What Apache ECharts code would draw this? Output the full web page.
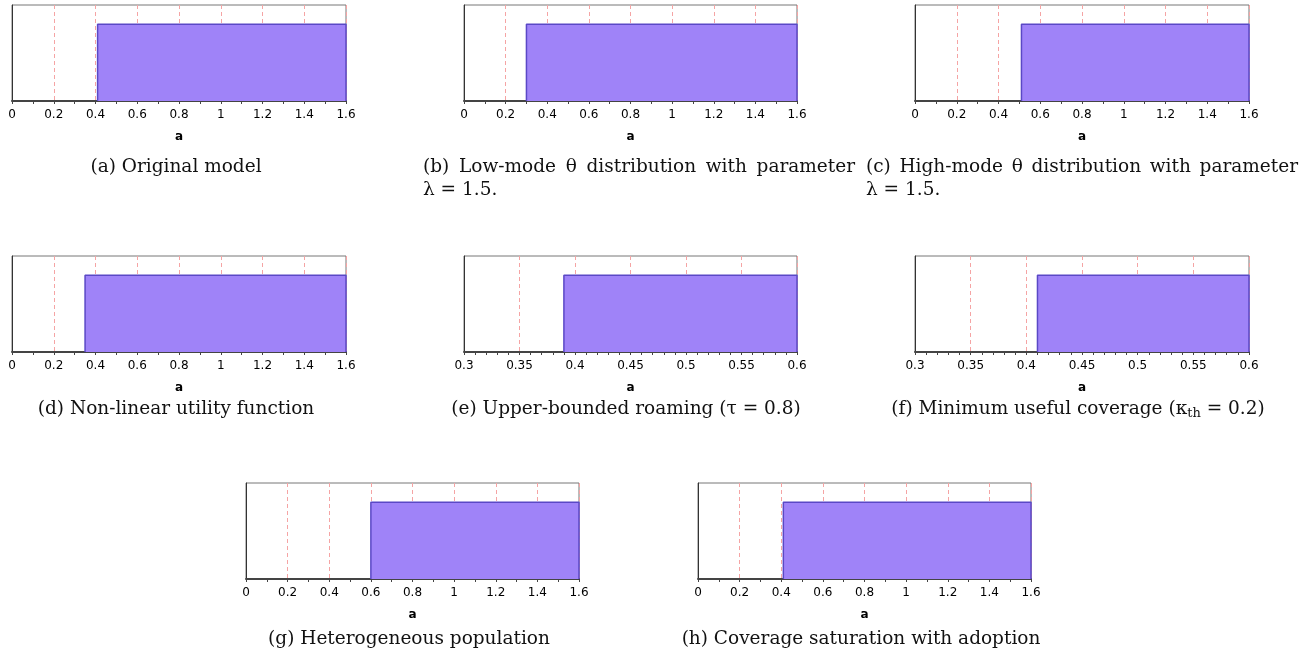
<!DOCTYPE html>
<html>
<head>
<meta charset="utf-8">
<script src="https://cdn.jsdelivr.net/npm/echarts@6/dist/echarts.min.js"></script>
<style>
  html, body { margin: 0; padding: 0; background: #fff; }
  #chart { width: 1310px; height: 663px; }
</style>
</head>
<body>
<div id="chart"></div>
<script>
// Threshold of a above which the region is shaded, one per sub-figure
const thresholds = [0.41, 0.30, 0.51, 0.35, 0.39, 0.41, 0.60, 0.41];
// Axis ranges and tick spacing per sub-figure
const axisMins = [0, 0, 0, 0, 0.3, 0.3, 0, 0];
const axisMaxes = [1.6, 1.6, 1.6, 1.6, 0.6, 0.6, 1.6, 1.6];
const tickSteps = [0.2, 0.2, 0.2, 0.2, 0.05, 0.05, 0.2, 0.2];
const minorSplits = [2, 2, 2, 2, 5, 5, 2, 2];
// Height of the shaded band and top of the vertical range
const bandHeight = 1;
const yTop = 1.25;
const axisTitle = 'a';
// Caption text: first line, optional second line
const captionLines = [
  ['(a) Original model'],
  ['(b) Low-mode θ distribution with parameter', 'λ = 1.5.'],
  ['(c) High-mode θ distribution with parameter', 'λ = 1.5.'],
  ['(d) Non-linear utility function'],
  ['(e) Upper-bounded roaming (τ = 0.8)'],
  ['(f) Minimum useful coverage (κ{sub|th} = 0.2)'],
  ['(g) Heterogeneous population'],
  ['(h) Coverage saturation with adoption']
];

// Panel placement (pixels)
const panelBoxes = [
  { left: 12,  top: 5,   width: 334 },
  { left: 464, top: 5,   width: 333 },
  { left: 915, top: 5,   width: 334 },
  { left: 12,  top: 256, width: 334 },
  { left: 464, top: 256, width: 333 },
  { left: 915, top: 256, width: 334 },
  { left: 246, top: 483, width: 333 },
  { left: 698, top: 483, width: 333 }
];
const panelHeight = 96;
const captionLineHeight = 23;
// Caption anchors (x, centre of first line); wrapped captions are justified over a column
const captionPos = [
  { x: 176,  y: 167, align: 'center' },
  { x: 423,  y: 167, align: 'left', justify: 432 },
  { x: 866,  y: 167, align: 'left', justify: 432 },
  { x: 176,  y: 409, align: 'center' },
  { x: 626,  y: 409, align: 'center' },
  { x: 1078, y: 409, align: 'center' },
  { x: 409,  y: 639, align: 'center' },
  { x: 861,  y: 639, align: 'center' }
];

const serif = '"DejaVu Serif", "Liberation Serif", serif';
const captionSize = 18.5;
const measureCtx = document.createElement('canvas').getContext('2d');
measureCtx.font = captionSize + 'px "DejaVu Serif"';

// Build a justified first line: words separated by stretched gaps
function justifiedLine(line, width, gapKey, rich) {
  const words = line.split(' ');
  const used = words.reduce((s, w) => s + measureCtx.measureText(w).width, 0);
  const natural = measureCtx.measureText(' ').width;
  const gap = Math.max(natural, (width - used) / (words.length - 1));
  rich[gapKey] = { width: gap, fontFamily: serif, fontSize: captionSize };
  return words.join('{' + gapKey + '| }');
}

const chart = echarts.init(document.getElementById('chart'), null, { renderer: 'canvas' });
const grid = [], xAxis = [], yAxis = [], series = [], title = [];

panelBoxes.forEach((b, i) => {
  grid.push({
    left: b.left, top: b.top, width: b.width, height: panelHeight,
    show: true, borderColor: '#777', borderWidth: 1, backgroundColor: '#fff'
  });
  xAxis.push({
    type: 'value', gridIndex: i,
    min: axisMins[i], max: axisMaxes[i], interval: tickSteps[i],
    name: axisTitle, nameLocation: 'middle', nameGap: 30,
    nameTextStyle: { fontFamily: 'DejaVu Sans', fontSize: 12, fontWeight: 'bold', color: '#000' },
    axisLine: { show: true, lineStyle: { color: '#444', width: 2 } },
    axisTick: { show: true, length: 3, lineStyle: { color: '#444' } },
    minorTick: { show: true, splitNumber: minorSplits[i], length: 3, lineStyle: { color: '#444' } },
    axisLabel: {
      fontFamily: 'DejaVu Sans', fontSize: 12, color: '#000', margin: 8,
      showMinLabel: true, showMaxLabel: true
    },
    splitLine: { show: true, lineStyle: { type: [4, 3], color: '#f5a4a4', width: 1 } }
  });
  yAxis.push({
    type: 'value', gridIndex: i, min: 0, max: yTop,
    axisLine: { show: true, lineStyle: { color: '#333', width: 1 } },
    axisTick: { show: false }, axisLabel: { show: false },
    splitLine: { show: false }
  });
  const t = thresholds[i], hi = axisMaxes[i];
  series.push({
    type: 'line', xAxisIndex: i, yAxisIndex: i,
    data: [[t, 0], [t, bandHeight], [hi, bandHeight], [hi, 0]],
    symbol: 'none', silent: true, animation: false,
    lineStyle: { color: '#5a48c6', width: 1.5 },
    areaStyle: { color: '#9f83f8', opacity: 1 },
    z: 3
  });

  const c = captionPos[i];
  const rich = {
    sub: { fontFamily: serif, fontSize: 13, verticalAlign: 'bottom', padding: [8, 0, 0, 0] }
  };
  const lines = captionLines[i].slice();
  if (c.justify) lines[0] = justifiedLine(lines[0], c.justify, 'g' + i, rich);
  title.push({
    text: lines.join('\n'),
    left: c.x,
    top: c.y - captionLineHeight / 2,
    textAlign: c.align,
    textStyle: {
      fontFamily: serif, fontSize: captionSize, fontWeight: 'normal', color: '#111',
      lineHeight: captionLineHeight, rich
    },
    padding: 0
  });
});

chart.setOption({
  animation: false,
  backgroundColor: '#fff',
  title, grid, xAxis, yAxis, series
});
</script>
</body>
</html>
